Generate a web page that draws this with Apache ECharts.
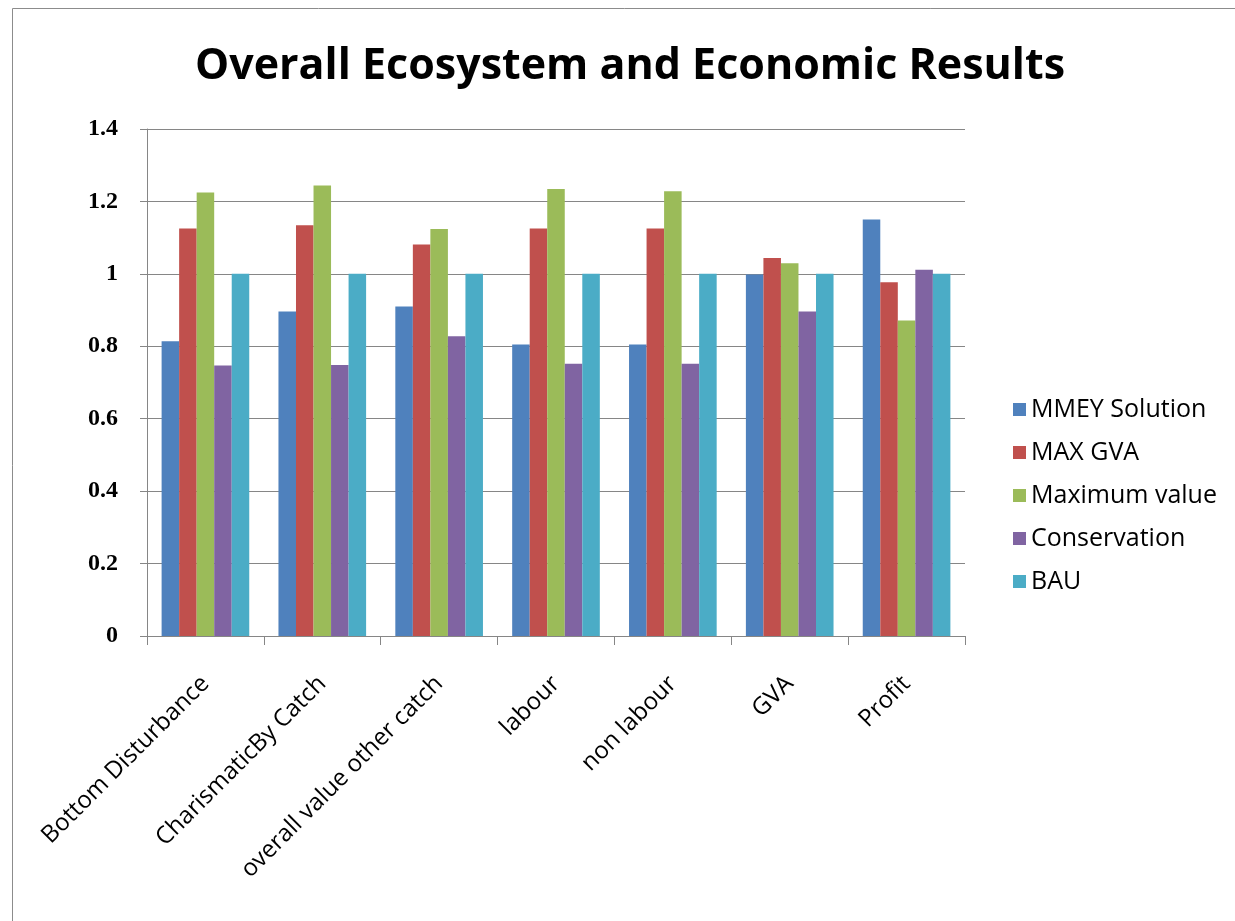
<!DOCTYPE html>
<html>
<head>
<meta charset="utf-8">
<script src="https://cdn.jsdelivr.net/npm/echarts@6/dist/echarts.min.js"></script>
<style>
  html, body { margin: 0; padding: 0; background: #fff; }
  #chart { width: 1235px; height: 921px; }
</style>
</head>
<body>
<div id="chart"></div>
<script>
// categories and series values
var categories = ['Bottom Disturbance', 'CharismaticBy Catch', 'overall value other catch', 'labour', 'non labour', 'GVA', 'Profit'];
var mmeySolution = [0.814, 0.896, 0.910, 0.805, 0.805, 0.998, 1.150];
var maxGva = [1.125, 1.134, 1.081, 1.125, 1.125, 1.044, 0.977];
var maximumValue = [1.225, 1.244, 1.124, 1.234, 1.228, 1.029, 0.871];
var conservation = [0.747, 0.748, 0.828, 0.752, 0.752, 0.896, 1.011];
var bau = [1.0, 1.0, 1.0, 1.0, 1.0, 1.0, 1.0];
var seriesNames = ['MMEY Solution', 'MAX GVA', 'Maximum value', 'Conservation', 'BAU'];
var colors = ['#4F81BD', '#C0504D', '#9BBB59', '#8064A2', '#4BACC6'];

var chart = echarts.init(document.getElementById('chart'));

var dataList = [mmeySolution, maxGva, maximumValue, conservation, bau];
var series = [];
for (var i = 0; i < dataList.length; i++) {
    series.push({
        name: seriesNames[i],
        type: 'bar',
        data: dataList[i],
        barGap: '0%',
        barCategoryGap: '25%',
        itemStyle: { color: colors[i] }
    });
}

var option = {
    animation: false,
    color: colors,
    graphic: [{
        type: 'rect',
        shape: { x: 12.5, y: 8.5, width: 1230, height: 920 },
        style: { fill: 'none', stroke: '#8c8c8c', lineWidth: 1 },
        silent: true
    }],
    title: {
        text: 'Overall Ecosystem and Economic Results',
        left: 190,
        top: 40,
        textStyle: {
            fontFamily: 'Open Sans',
            fontWeight: 'bold',
            fontSize: 43,
            color: '#000'
        }
    },
    legend: {
        orient: 'vertical',
        left: 1008,
        top: 392,
        itemWidth: 13,
        itemHeight: 13,
        itemGap: 18,
        icon: 'rect',
        textStyle: { fontFamily: 'Open Sans', fontSize: 25, color: '#000' },
        data: seriesNames
    },
    grid: {
        left: 147,
        right: 270,
        top: 129,
        bottom: 285,
        containLabel: false
    },
    xAxis: {
        type: 'category',
        data: categories,
        axisLine: { lineStyle: { color: '#868686', width: 1 } },
        axisTick: { show: true, length: 9, lineStyle: { color: '#868686' } },
        axisLabel: {
            rotate: 45,
            interval: 0,
            margin: 44,
            fontFamily: 'Open Sans',
            fontSize: 24,
            color: '#000'
        }
    },
    yAxis: {
        type: 'value',
        min: 0,
        max: 1.4,
        interval: 0.2,
        axisLine: { show: true, lineStyle: { color: '#868686', width: 1 } },
        axisTick: { show: true, length: 7, lineStyle: { color: '#868686' } },
        splitLine: { lineStyle: { color: '#868686', width: 1 } },
        axisLabel: {
            margin: 29,
            fontFamily: 'Liberation Serif',
            fontWeight: 'bold',
            fontSize: 24,
            color: '#000',
            formatter: function(v) {
                return Math.round(v * 10) / 10 + '';
            }
        }
    },
    series: series
};
chart.setOption(option);
</script>
</body>
</html>
